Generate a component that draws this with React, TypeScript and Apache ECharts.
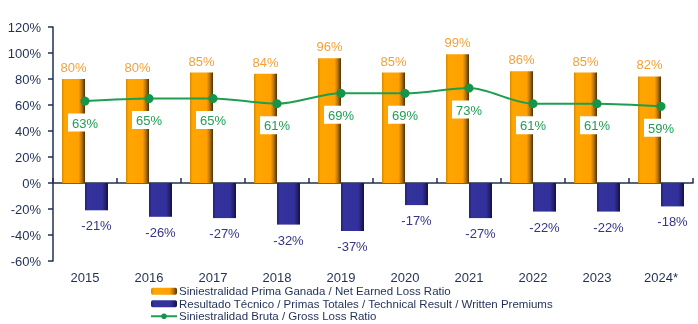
import React, { useEffect, useRef } from "react";
import * as echarts from "echarts";

const categories = ["2015", "2016", "2017", "2018", "2019", "2020", "2021", "2022", "2023", "2024*"];
const netEarnedLossRatio = [80, 80, 85, 84, 96, 85, 99, 86, 85, 82];
const technicalResult = [-21, -26, -27, -32, -37, -17, -27, -22, -22, -18];
const grossLossRatio = [63, 65, 65, 61, 69, 69, 73, 61, 61, 59];

const seriesNames = [
  "Siniestralidad Prima Ganada / Net Earned Loss Ratio",
  "Resultado Técnico / Primas Totales / Technical Result / Written Premiums",
  "Siniestralidad Bruta / Gross Loss Ratio",
];

const FONT = "'Liberation Sans', Arial, sans-serif";
const NAVY = "#1f2f55";

export default function App() {
  const ref = useRef<HTMLDivElement>(null);
  useEffect(() => {
    if (!ref.current) return;
    const chart = echarts.init(ref.current, null, { renderer: "svg" });
    const orangeGrad = new echarts.graphic.LinearGradient(0, 0, 1, 0, [
      { offset: 0, color: "#d98a00" },
      { offset: 0.12, color: "#ffa600" },
      { offset: 0.72, color: "#ffa000" },
      { offset: 0.86, color: "#b87400" },
      { offset: 1, color: "#4a3000" },
    ]);
    const blueGrad = new echarts.graphic.LinearGradient(0, 0, 1, 0, [
      { offset: 0, color: "#23216f" },
      { offset: 0.12, color: "#34329c" },
      { offset: 0.75, color: "#32309a" },
      { offset: 0.88, color: "#23216f" },
      { offset: 1, color: "#12103f" },
    ]);
    chart.setOption({
      animation: false,
      textStyle: { fontFamily: FONT },
      grid: { left: 53, right: 5, top: 27, bottom: 63, containLabel: false },
      legend: {
        orient: "vertical",
        left: 150,
        top: 285,
        padding: 0,
        itemGap: 0,
        itemWidth: 26,
        itemHeight: 7,
        textStyle: { fontSize: 11.5, lineHeight: 12.5, color: NAVY, fontFamily: FONT, padding: [0, 0, 0, -3] },
        data: seriesNames,
      },
      xAxis: [
        {
          type: "category",
          data: categories,
          position: "bottom",
          axisLine: { show: false, onZero: false },
          axisTick: { show: false },
          axisLabel: { color: NAVY, fontSize: 13, margin: 10, fontFamily: FONT },
        },
        {
          type: "category",
          data: categories,
          position: "top",
          axisLine: { show: true, onZero: true, lineStyle: { color: NAVY, width: 1.5 } },
          axisTick: { show: true, inside: false, length: 5, lineStyle: { color: NAVY, width: 1.5 } },
          axisLabel: { show: false },
        },
      ],
      yAxis: {
        type: "value",
        min: -60,
        max: 120,
        interval: 20,
        axisLine: { show: true, lineStyle: { color: NAVY, width: 1.5 } },
        axisTick: { show: true, length: 5, lineStyle: { color: NAVY, width: 1.5 } },
        splitLine: { show: false },
        axisLabel: { formatter: "{value}%", color: NAVY, fontSize: 13, margin: 12, fontFamily: FONT },
      },
      series: [
        {
          name: seriesNames[0],
          type: "bar",
          xAxisIndex: 0,
          data: netEarnedLossRatio,
          barWidth: 23,
          barGap: "0%",
          itemStyle: { color: orangeGrad },
          label: {
            show: true,
            position: "top",
            distance: 5,
            formatter: "{c}%",
            color: "#f0a23a",
            fontSize: 13,
            fontFamily: FONT,
          },
          z: 2,
        },
        {
          name: seriesNames[1],
          type: "bar",
          xAxisIndex: 0,
          data: technicalResult,
          barWidth: 23,
          barGap: "0%",
          itemStyle: { color: blueGrad },
          label: {
            show: true,
            position: "bottom",
            distance: 9,
            formatter: "{c}%",
            color: "#34348a",
            fontSize: 13,
            fontFamily: FONT,
          },
          z: 2,
        },
        {
          name: seriesNames[2],
          type: "line",
          xAxisIndex: 0,
          data: grossLossRatio,
          smooth: 0.3,
          symbol: "circle",
          symbolSize: 9,
          lineStyle: { color: "#1f9e52", width: 2 },
          itemStyle: { color: "#14954a" },
          label: {
            show: true,
            position: "bottom",
            distance: 8,
            formatter: "{c}%",
            color: "#1f9e52",
            fontSize: 13,
            fontFamily: FONT,
            backgroundColor: "#ffffff",
            padding: [3, 4, 2, 4],
          },
          z: 5,
        },
      ],
    });
    return () => chart.dispose();
  }, []);
  return (
    <div
      ref={ref}
      style={{ position: "fixed", left: 0, top: 0, width: 698, height: 324, overflow: "visible" }}
    />
  );
}
